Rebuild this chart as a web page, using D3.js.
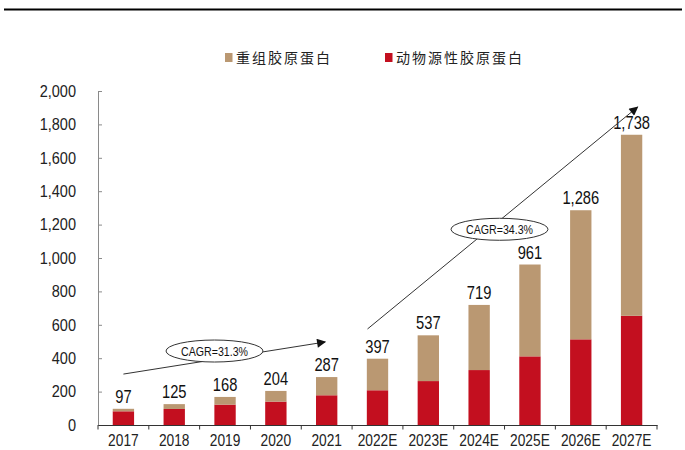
<!DOCTYPE html>
<html>
<head>
<meta charset="utf-8">
<script src="https://cdn.jsdelivr.net/npm/d3@7/dist/d3.min.js"></script>
<style>
  html, body { margin: 0; padding: 0; background: #fff; }
  svg { display: block; }
  .num { font-family: "Liberation Sans", Arial, sans-serif; }
  .cjk { font-family: "Noto Sans CJK SC", sans-serif; }
</style>
</head>
<body>
<svg id="chart" width="685" height="450"></svg>
<script>
// Collagen market size by type (stacked)
const years = ["2017", "2018", "2019", "2020", "2021", "2022E", "2023E", "2024E", "2025E", "2026E", "2027E"];
const totals = [97, 125, 168, 204, 287, 397, 537, 719, 961, 1286, 1738];
const animalDerived = [82, 96, 122, 140, 178, 208, 263, 329, 411, 513, 654];
const recombinant = totals.map((t, i) => t - animalDerived[i]);
const yTicks = [0, 200, 400, 600, 800, 1000, 1200, 1400, 1600, 1800, 2000];
const seriesNames = ["重组胶原蛋白", "动物源性胶原蛋白"];
const cagrLabels = ["CAGR=31.3%", "CAGR=34.3%"];

const colors = { recombinant: "#BA9872", animal: "#C30F1F" };

// condense numeric text horizontally around its anchor point
function narrow(sel, sx) {
  sel.each(function () {
    const t = d3.select(this);
    const x = +t.attr("x") || 0;
    const y = +t.attr("y") || 0;
    t.attr("x", 0).attr("y", 0)
      .attr("transform", `translate(${x},${y}) scale(${sx},1)`);
  });
}

const svg = d3.select("#chart");

const x = d3.scaleBand()
  .domain(years)
  .range([98, 657])
  .paddingInner(0.58)
  .paddingOuter(0.29);

const y = d3.scaleLinear().domain([0, 2000]).range([425, 91]);

// top rule
svg.append("line")
  .attr("x1", 4).attr("x2", 682)
  .attr("y1", 9.5).attr("y2", 9.5)
  .attr("stroke", "#000").attr("stroke-width", 2.2);

// legend
const legend = svg.append("g");
const legendItems = [
  { name: seriesNames[0], color: colors.recombinant, x: 225 },
  { name: seriesNames[1], color: colors.animal, x: 385 }
];
legendItems.forEach(it => {
  legend.append("rect")
    .attr("x", it.x).attr("y", 53).attr("width", 7.5).attr("height", 9)
    .attr("fill", it.color);
  legend.append("text")
    .attr("class", "cjk")
    .attr("x", it.x + 11).attr("y", 63)
    .attr("font-size", 14)
    .attr("letter-spacing", 2)
    .attr("fill", "#222")
    .text(it.name);
});

// stacked data
const rows = years.map((yr, i) => ({ year: yr, animal: animalDerived[i], recombinant: recombinant[i], total: totals[i] }));
const stack = d3.stack().keys(["animal", "recombinant"]);
const layers = stack(rows);

svg.append("g").selectAll("g")
  .data(layers)
  .join("g")
  .attr("fill", d => colors[d.key])
  .selectAll("rect")
  .data(d => d)
  .join("rect")
  .attr("x", d => x(d.data.year))
  .attr("width", x.bandwidth())
  .attr("y", d => y(d[1]))
  .attr("height", d => y(d[0]) - y(d[1]));

// value labels
svg.append("g").selectAll("text")
  .data(rows)
  .join("text")
  .attr("class", "num")
  .attr("x", d => x(d.year) + x.bandwidth() / 2)
  .attr("y", d => y(d.total) - 6)
  .attr("text-anchor", "middle")
  .attr("font-size", 17.5)
  .attr("fill", "#111")
  .text(d => d3.format(",")(d.total))
  .call(narrow, 0.84);

// y axis
const yAxis = svg.append("g")
  .attr("transform", "translate(98,0)")
  .call(d3.axisLeft(y).tickValues(yTicks).tickFormat(d3.format(",")).tickSizeInner(-4).tickSizeOuter(-4).tickPadding(22));
yAxis.select(".domain").attr("stroke", "#8a8a8a");
yAxis.selectAll(".tick line").attr("stroke", "#8a8a8a");
yAxis.selectAll(".tick text")
  .attr("class", "num")
  .attr("font-size", 16.5)
  .attr("fill", "#222")
  .call(narrow, 0.88);

// x axis
const xAxis = svg.append("g")
  .attr("transform", "translate(0,425)")
  .call(d3.axisBottom(x).tickSize(0).tickPadding(10));
xAxis.select(".domain").attr("stroke", "#333");
xAxis.selectAll(".tick text")
  .attr("class", "num")
  .attr("font-size", 16)
  .attr("fill", "#222")
  .call(narrow, 0.86);
const step = x.step();
const bounds = years.map(d => x(d) - (step - x.bandwidth()) / 2).concat([x.range()[1]]);
xAxis.selectAll(".bound")
  .data(bounds)
  .join("line")
  .attr("class", "bound")
  .attr("x1", d => d).attr("x2", d => d)
  .attr("y1", 0).attr("y2", 4.5)
  .attr("stroke", "#333");

// CAGR annotations: arrow + ellipse badge
const defs = svg.append("defs");
defs.append("marker")
  .attr("id", "arrowHead")
  .attr("viewBox", "0 0 10 10")
  .attr("refX", 9).attr("refY", 5)
  .attr("markerWidth", 11).attr("markerHeight", 9)
  .attr("markerUnits", "userSpaceOnUse")
  .attr("orient", "auto")
  .append("path")
  .attr("d", "M0,0 L10,5 L0,10 Z")
  .attr("fill", "#111");

const mid = yr => x(yr) + x.bandwidth() / 2;
const annotations = [
  { label: cagrLabels[0], from: [mid("2017"), y(305)], to: [mid("2021") - 1.5, y(497)], badge: [214.5, y(443)] },
  { label: cagrLabels[1], from: [mid("2022E") - 10, y(575)], to: [mid("2027E") + 6, y(1904)], badge: [499.5, y(1172)] }
];
const ann = svg.append("g");
annotations.forEach(a => {
  ann.append("line")
    .attr("x1", a.from[0]).attr("y1", a.from[1])
    .attr("x2", a.to[0]).attr("y2", a.to[1])
    .attr("stroke", "#333").attr("stroke-width", 1)
    .attr("marker-end", "url(#arrowHead)");
  ann.append("ellipse")
    .attr("cx", a.badge[0]).attr("cy", a.badge[1])
    .attr("rx", 48.5).attr("ry", 11)
    .attr("fill", "#fff").attr("stroke", "#333").attr("stroke-width", 1);
  ann.append("text")
    .attr("class", "num")
    .attr("x", a.badge[0]).attr("y", a.badge[1] + 4.5)
    .attr("text-anchor", "middle")
    .attr("font-size", 12.5)
    .attr("fill", "#111")
    .text(a.label)
    .call(narrow, 0.85);
});
</script>
</body>
</html>
